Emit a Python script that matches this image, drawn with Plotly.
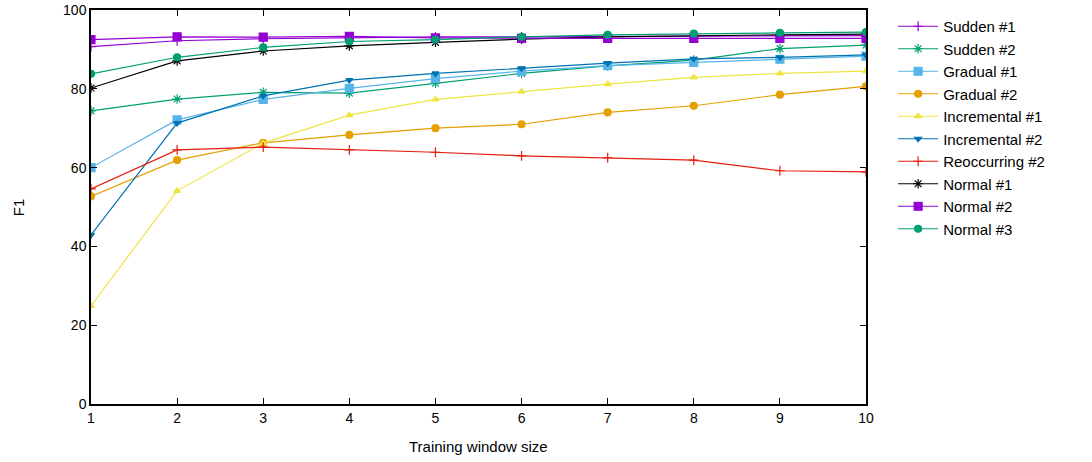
import plotly.graph_objects as go

window = [1, 2, 3, 4, 5, 6, 7, 8, 9, 10]

sudden_1 = [90.7, 92.2, 92.7, 93.0, 93.2, 93.2, 93.3, 93.4, 93.5, 93.5]
sudden_2 = [74.4, 77.4, 79.1, 78.9, 81.4, 83.9, 85.8, 87.3, 90.2, 91.1]
gradual_1 = [60.0, 72.1, 77.3, 80.1, 82.6, 84.5, 85.9, 86.7, 87.5, 88.3]
gradual_2 = [52.7, 61.9, 66.3, 68.3, 70.0, 71.0, 74.0, 75.7, 78.5, 80.6]
incremental_1 = [24.9, 54.1, 66.2, 73.3, 77.3, 79.3, 81.2, 82.9, 83.9, 84.5]
incremental_2 = [42.9, 71.3, 78.2, 82.2, 83.9, 85.2, 86.5, 87.6, 88.0, 88.6]
reoccurring_2 = [54.6, 64.5, 65.2, 64.5, 63.9, 63.0, 62.5, 61.9, 59.2, 58.9]
normal_1 = [80.2, 87.1, 89.6, 90.9, 91.8, 92.6, 93.2, 93.5, 93.7, 93.9]
normal_2 = [92.5, 93.2, 93.1, 93.3, 92.9, 92.8, 92.8, 92.8, 92.8, 92.8]
normal_3 = [83.8, 88.0, 90.5, 92.0, 92.5, 93.2, 93.7, 94.0, 94.2, 94.4]

y_ticks = [0, 20, 40, 60, 80, 100]

series = [
    ("Sudden #1", sudden_1, "#9400d3", "cross-thin-open", 7),
    ("Sudden #2", sudden_2, "#009e73", "asterisk-open", 8),
    ("Gradual #1", gradual_1, "#56b4e9", "square", 8),
    ("Gradual #2", gradual_2, "#e69f00", "circle", 7),
    ("Incremental #1", incremental_1, "#f0e442", "triangle-up", 6),
    ("Incremental #2", incremental_2, "#0072b2", "triangle-down", 6),
    ("Reoccurring #2", reoccurring_2, "#e51e10", "cross-thin-open", 7),
    ("Normal #1", normal_1, "#000000", "asterisk-open", 8),
    ("Normal #2", normal_2, "#9400d3", "square", 8),
    ("Normal #3", normal_3, "#009e73", "circle", 7),
]

fig = go.Figure()
for name, vals, color, sym, size in series:
    fig.add_trace(go.Scatter(
        x=window, y=vals, name=name, mode="lines+markers",
        line=dict(color=color, width=1.2),
        marker=dict(symbol=sym, size=size, color=color,
                    line=dict(color=color, width=1.2)),
    ))

axis_common = dict(
    showline=True, linecolor="black", linewidth=1.5, mirror="ticks",
    ticks="inside", ticklen=6, tickcolor="black", tickwidth=1,
    showgrid=False, zeroline=False, automargin=False,
    ticklabeloverflow="allow",
    tickfont=dict(family="Liberation Sans", size=14, color="black"),
)

fig.update_layout(
    width=1092, height=462,
    margin=dict(l=91, r=226, t=10, b=58),
    paper_bgcolor="white", plot_bgcolor="white",
    font=dict(family="Liberation Sans", color="black"),
    xaxis=dict(range=[1, 10], tickvals=window, **axis_common),
    yaxis=dict(range=[0, 100], tickvals=y_ticks, **axis_common),
    legend=dict(x=1.035, y=1.0, xanchor="left", yanchor="top",
                font=dict(family="Liberation Sans", size=15, color="black"),
                tracegroupgap=0, itemwidth=40, bgcolor="rgba(0,0,0,0)"),
    annotations=[
        dict(text="Training window size", xref="paper", yref="paper",
             x=0.5, y=-0.109, xanchor="center", yanchor="middle",
             showarrow=False, font=dict(size=15)),
        dict(text="F1", xref="paper", yref="paper",
             x=-0.094, y=0.5, xanchor="center", yanchor="middle",
             showarrow=False, textangle=-90, font=dict(size=15)),
    ],
)

fig.write_html(
    "out.html",
    config={"displayModeBar": False},
    post_script="document.body.style.margin='0';document.body.style.overflow='hidden';",
)
